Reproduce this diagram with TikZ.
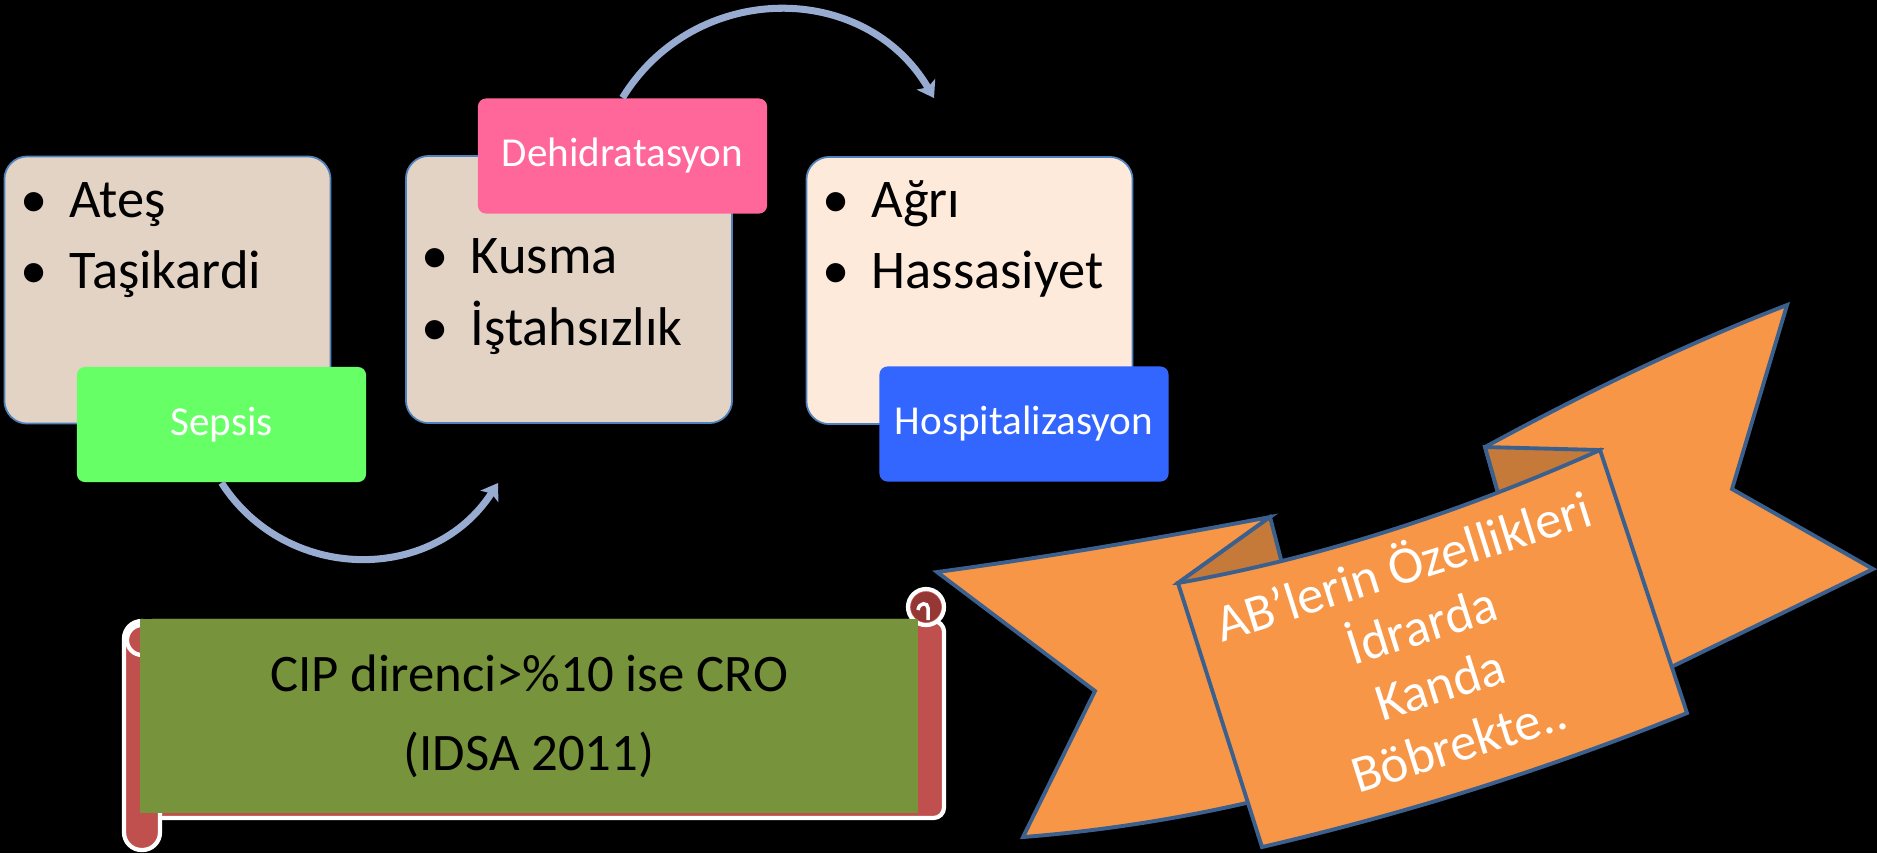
\documentclass[tikz,border=0pt]{standalone}
\usepackage{fontspec}
\setmainfont{Carlito}
\usepackage{tikz}
\usetikzlibrary{arrows.meta}

\definecolor{cardtan}{RGB}{227,211,196}
\definecolor{cardpeach}{RGB}{253,234,218}
\definecolor{cardedge}{RGB}{79,129,189}
\definecolor{sepsisgreen}{RGB}{102,255,102}
\definecolor{dehidpink}{RGB}{255,102,153}
\definecolor{hospblue}{RGB}{51,102,255}
\definecolor{flowblue}{RGB}{152,171,208}
\definecolor{scrollred}{RGB}{192,80,77}
\definecolor{scrolldark}{RGB}{149,55,53}
\definecolor{scrollgreen}{RGB}{119,147,60}
\definecolor{bannerorange}{RGB}{247,150,70}
\definecolor{bannerfold}{RGB}{198,122,58}
\definecolor{banneredge}{RGB}{60,96,142}

\newcommand{\blt}{\makebox[0.49cm][l]{\textbullet}}

\begin{document}
\begin{tikzpicture}
[x=0.01cm,y=-0.01cm,>={Stealth[length=4.5pt,width=6pt,inset=1pt]},
 card/.style={draw=cardedge,line width=0.5pt,rounded corners=6.5pt,
   minimum width=3.26cm,minimum height=2.67cm,inner sep=0pt},
 tag/.style={rounded corners=2.3pt,minimum width=2.89cm,minimum height=1.15cm,
   inner sep=0pt,text=white,font=\fontsize{11.7}{14}\selectfont},
 item/.style={anchor=base west,inner sep=0pt,font=\fontsize{15.5}{18}\selectfont},
 flow/.style={->,line width=2pt,draw=flowblue},
 scrollpart/.style={fill=scrollred,draw=white,line width=1.2pt},
 banner/.style={fill=bannerorange,draw=banneredge,line width=1.1pt,line join=miter},
 fold/.style={fill=bannerfold,draw=banneredge,line width=1.1pt,line join=miter},
 bannertext/.style={text=white,align=center,font=\fontsize{15}{17.6}\selectfont}]

	\fill[black] (0,0) rectangle (1877,853);
	\useasboundingbox (0,0) rectangle (1877,853);
	%\draw[gray] (0,0) grid (1877,853);

	\node[card,fill=cardtan] (fever) at (167.5,290) {};
	\node[card,fill=cardtan] (vomit) at (569,289.5) {};
	\node[card,fill=cardpeach] (pain) at (969.5,290.5) {};

	\node[tag,fill=sepsisgreen] (sepsis) at (221.5,424.5) {Sepsis};
	\node[tag,fill=dehidpink] (dehid) at (622.5,156) {Dehidratasyon};
	\node[tag,fill=hospblue] (hosp) at (1024,424) {Hospitalizasyon};

	\node[item] (ates) at (20,217) {\blt Ateş};
	\node[item] (tasik) at (20,288) {\blt Taşikardi};
	\node[item] (kusma) at (421,273) {\blt Kusma};
	\node[item] (istah) at (421,345) {\blt İştahsızlık};
	\node[item] (agri) at (822,217) {\blt Ağrı};
	\node[item] (hassas) at (822,288) {\blt Hassasiyet};

	\coordinate (painin) at (934,98);
	\coordinate (vomitin) at (498,483);
	\draw[flow] (dehid.north) .. controls (695,-20) and (865,-20) .. (painin);
	\draw[flow] (sepsis.south) .. controls (286,583) and (433,584) .. (vomitin);

	% scroll
	\filldraw[scrollpart,rounded corners=3pt] (142,621) rectangle (944,818);
	\filldraw[scrollpart] (926,607) circle (18);
	\fill[scrolldark] (926,607) circle (15);
	\draw[white,line width=1pt] (918,610) .. controls (919,602) and (928,602) .. (928,608) -- (928,620);
	\filldraw[scrollpart,rounded corners=5pt] (124,621) rectangle (160,850);
	\filldraw[scrollpart] (142,640) circle (15);
	\node[fill=scrollgreen,minimum width=7.78cm,minimum height=1.94cm,align=center,
		font=\fontsize{15}{22.5}\selectfont] (cip) at (529,716)
		{CIP direnci>\%10 ise CRO\\(IDSA 2011)};

	% banner
	\filldraw[banner] (937,572) .. controls (1048,557) and (1159,538) .. (1270,517)
		-- (1178,583) -- (1255,801) .. controls (1178,819) and (1100,831) .. (1023,837)
		-- (1095,691) -- cycle;
	\filldraw[banner] (1485,447) .. controls (1586,392) and (1686,344) .. (1787,305)
		-- (1732,489) -- (1873,569) -- (1665,670) -- (1500,500) -- cycle;
	\filldraw[fold] (1270,517) -- (1285,575) -- (1230,585) -- (1178,583) -- cycle;
	\filldraw[fold] (1485,447) -- (1600,450) -- (1560,495) -- (1500,500) -- cycle;
	\filldraw[banner] (1178,583) .. controls (1319,558) and (1459,513) .. (1600,450)
		-- (1687,713) .. controls (1545,770) and (1404,814) .. (1262,847) -- cycle;
	\node[bannertext,rotate=17.5] (abtext) at (1430,652)
		{AB’lerin Özellikleri\\İdrarda\\Kanda\\Böbrekte..};
\end{tikzpicture}
\end{document}
